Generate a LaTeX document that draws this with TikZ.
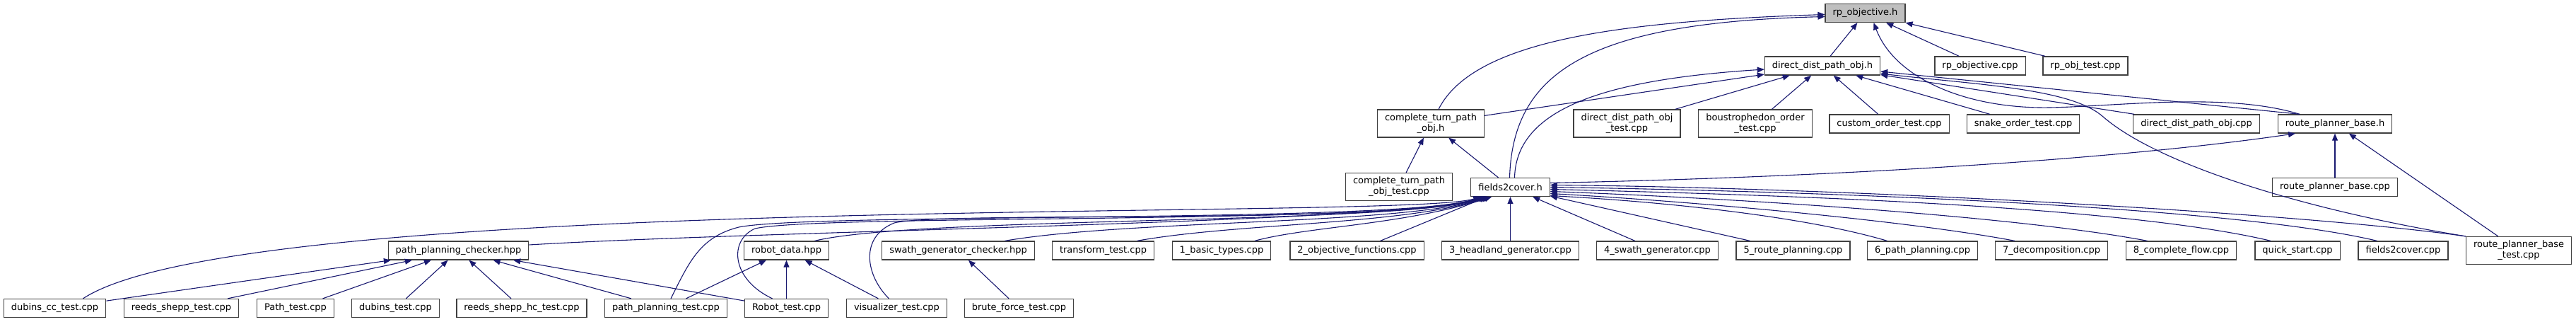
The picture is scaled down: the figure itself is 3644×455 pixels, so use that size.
\documentclass[tikz,border=0pt]{standalone}
\usepackage{fontspec}
\newfontfamily\doxyfont{DejaVu Sans}
\usetikzlibrary{arrows.meta}
\definecolor{edgeblue}{HTML}{191970}
\definecolor{boxline}{HTML}{404040}
\definecolor{curfill}{HTML}{BFBFBF}

\begin{document}
\begin{tikzpicture}[
    x=1pt, y=-1pt,
    file/.style={rectangle, draw=boxline, line width=1.3pt, fill=white, inner xsep=10.5pt, inner ysep=5.5pt, minimum height=26pt, align=center, font=\doxyfont\fontsize{13}{15}\selectfont},
    cur/.style={file, fill=curfill},
    incl/.style={-{Triangle[length=10pt,width=8pt]}, draw=edgeblue, line width=1.1pt},
]
\useasboundingbox (0,0) rectangle (3644,455);

% row 0
\node[cur] (rpo) at (2638.5,18.5) {rp\_objective.h};

% row 1
\node[file] (ddh) at (2578,93) {direct\_dist\_path\_obj.h};
\node[file] (rpcpp) at (2801,93) {rp\_objective.cpp};
\node[file] (rptest) at (2950,93) {rp\_obj\_test.cpp};

% row 2
\node[file] (cth) at (2024,174.5) {complete\_turn\_path\\\_obj.h};
\node[file] (ddtest) at (2301.5,174.5) {direct\_dist\_path\_obj\\\_test.cpp};
\node[file] (bous) at (2483,174.5) {boustrophedon\_order\\\_test.cpp};
\node[file] (cot) at (2672.5,175) {custom\_order\_test.cpp};
\node[file] (sot) at (2862,175) {snake\_order\_test.cpp};
\node[file] (ddcpp) at (3107,175) {direct\_dist\_path\_obj.cpp};
\node[file] (rpbh) at (3303,175) {route\_planner\_base.h};

% row 3
\node[file] (cttest) at (1979,264) {complete\_turn\_path\\\_obj\_test.cpp};
\node[file] (f2ch) at (2136.5,264.5) {fields2cover.h};
\node[file] (rpbcpp) at (3303,264.5) {route\_planner\_base.cpp};

% row 4
\node[file] (ppch) at (648.5,354) {path\_planning\_checker.hpp};
\node[file] (rdh) at (1112.5,354) {robot\_data.hpp};
\node[file] (sgch) at (1355.5,354) {swath\_generator\_checker.hpp};
\node[file] (tft) at (1560.5,354) {transform\_test.cpp};
\node[file] (bt1) at (1728,354) {1\_basic\_types.cpp};
\node[file] (of2) at (1919.5,354) {2\_objective\_functions.cpp};
\node[file] (hg3) at (2136.5,354) {3\_headland\_generator.cpp};
\node[file] (sg4) at (2344.5,354) {4\_swath\_generator.cpp};
\node[file] (rp5) at (2536.5,354) {5\_route\_planning.cpp};
\node[file] (pp6) at (2719.5,354) {6\_path\_planning.cpp};
\node[file] (dc7) at (2902,354) {7\_decomposition.cpp};
\node[file] (cf8) at (3085.5,354) {8\_complete\_flow.cpp};
\node[file] (qs) at (3250,354) {quick\_start.cpp};
\node[file] (f2ccpp) at (3399.5,354) {fields2cover.cpp};
\node[file] (rpbtest) at (3563,354) {route\_planner\_base\\\_test.cpp};

% row 5
\node[file] (dcc) at (77.5,435.5) {dubins\_cc\_test.cpp};
\node[file] (rst) at (256.5,435.5) {reeds\_shepp\_test.cpp};
\node[file] (pt) at (418,435.5) {Path\_test.cpp};
\node[file] (dt) at (559.5,435.5) {dubins\_test.cpp};
\node[file] (rshc) at (738,435.5) {reeds\_shepp\_hc\_test.cpp};
\node[file] (ppt) at (942,435.5) {path\_planning\_test.cpp};
\node[file] (rt) at (1112.5,435.5) {Robot\_test.cpp};
\node[file] (vt) at (1268.5,435.5) {visualizer\_test.cpp};
\node[file] (bft) at (1441.5,435.5) {brute\_force\_test.cpp};

% into rp_objective.h
\draw[incl] ([xshift=11pt]cth.north) .. controls (2085,55) and (2300,30) .. ([yshift=-2pt]rpo.west);
\draw[incl] ([xshift=-1pt]f2ch.north) .. controls (2140,100) and (2250,32) .. ([yshift=-5pt]rpo.west);
\draw[incl] (ddh) -- (rpo);
\draw[incl] ([xshift=-50pt]rpbh.north) .. controls (3150,130) and (3000,150) .. (2900,152)
    .. controls (2780,154) and (2680,110) .. ([xshift=12pt]rpo.south);
\draw[incl] (rpcpp) -- (rpo);
\draw[incl] (rptest) -- (rpo);

% into direct_dist_path_obj.h
\draw[incl] (cth) -- (ddh);
\draw[incl] ([xshift=6pt]f2ch.north) .. controls (2145,150) and (2280,112) .. ([yshift=-5pt]ddh.west);
\draw[incl] (ddtest) -- (ddh);
\draw[incl] (bous) -- (ddh);
\draw[incl] (cot) -- (ddh);
\draw[incl] (sot) -- (ddh);
\draw[incl] (ddcpp) -- (ddh);
\draw[incl] ([xshift=-50pt]rpbh.north) -- ([yshift=-8pt]ddh.east);
\draw[incl] (rpbtest.north west) .. controls (3250,295) and (3050,230) .. (2975,165)
    .. controls (2930,125) and (2800,120) .. ([yshift=-11pt]ddh.east);

% into complete_turn_path_obj.h
\draw[incl] (cttest) -- (cth);
\draw[incl] (f2ch) -- (cth);

% into route_planner_base.h
\draw[incl] ([yshift=6pt]f2ch.east) .. controls (2600,250) and (3000,225) .. ([xshift=-56pt]rpbh.south);
\draw[incl] (rpbcpp) -- (rpbh);
\draw[incl] (rpbtest) -- (rpbh);

% into path_planning_checker.hpp
\foreach \src in {dcc,rst,pt,dt,rshc,ppt,rt}
    \draw[incl] (\src) -- (ppch);

% into robot_data.hpp
\foreach \src in {ppt,rt,vt}
    \draw[incl] (\src) -- (rdh);
\draw[incl] (bft) -- (sgch);

% into fields2cover.h from the left
\draw[incl] ([xshift=40pt]dcc.north) .. controls (350,270) and (1985,312) .. ([xshift=14pt]f2ch.south west);
\draw[incl] ([yshift=8pt]ppch.east) .. controls (1100,325) and (1985,315) .. ([xshift=16pt]f2ch.south west);
\draw[incl] ([xshift=7pt]ppt.north) .. controls (975,370) and (990,335) .. (1045,321)
    .. controls (1150,300) and (1985,316) .. ([xshift=18pt]f2ch.south west);
\draw[incl] ([xshift=-20pt]rt.north) .. controls (1035,395) and (1030,340) .. (1068,323)
    .. controls (1160,302) and (1985,318) .. ([xshift=20pt]f2ch.south west);
\draw[incl] ([xshift=-11pt]vt.north) .. controls (1225,390) and (1215,335) .. (1265,315)
    .. controls (1330,298) and (1985,318) .. ([xshift=22pt]f2ch.south west);
\draw[incl] ([xshift=40pt]rdh.north) .. controls (1300,305) and (1985,318) .. ([xshift=24pt]f2ch.south west);
\draw[incl] ([xshift=66pt]sgch.north) .. controls (1600,310) and (1985,318) .. ([xshift=26pt]f2ch.south west);
\draw[incl] ([xshift=48pt]tft.north) .. controls (1750,315) and (1985,318) .. ([xshift=28pt]f2ch.south west);
\draw[incl] ([xshift=47pt]bt1.north) .. controls (1850,320) and (1985,318) .. ([xshift=30pt]f2ch.south west);

% into fields2cover.h from below and the right
\draw[incl] (of2) -- (f2ch);
\draw[incl] (hg3) -- (f2ch);
\draw[incl] (sg4) -- (f2ch);
\draw[incl] (rp5) -- (f2ch);
\draw[incl] ([xshift=-50pt]pp6.north) .. controls (2550,305) and (2350,285) .. ([yshift=-12pt]f2ch.east);
\draw[incl] ([xshift=-52pt]dc7.north) .. controls (2700,312) and (2400,285) .. ([yshift=-9pt]f2ch.east);
\draw[incl] ([xshift=-48pt]cf8.north) .. controls (2850,305) and (2450,280) .. ([yshift=-6pt]f2ch.east);
\draw[incl] ([xshift=-38pt]qs.north) .. controls (3000,290) and (2500,275) .. ([yshift=-3pt]f2ch.east);
\draw[incl] ([xshift=-37pt]f2ccpp.north) .. controls (3150,290) and (2550,270) .. (f2ch.east);
\draw[incl] (rpbtest.north west) .. controls (3250,300) and (2600,265) .. ([yshift=3pt]f2ch.east);

\end{tikzpicture}
\end{document}
